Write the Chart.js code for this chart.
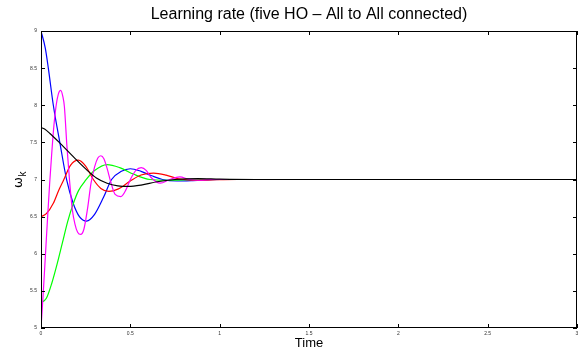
<!DOCTYPE html>
<html>
<head>
<meta charset="utf-8">
<script src="https://cdn.jsdelivr.net/npm/chart.js@4"></script>
<style>
  html, body { margin: 0; padding: 0; background: #fff; }
  #wrap { width: 578px; height: 347px; }
</style>
</head>
<body>
<div id="wrap"><canvas id="lrChart" width="578" height="347"></canvas></div>
<script>
// time (s) and omega_k values
const blueT = [0, 0.024, 0.041, 0.069, 0.106, 0.144, 0.18, 0.215, 0.255, 0.3, 0.35, 0.395, 0.45, 0.5, 0.56, 0.62, 0.68, 0.76, 0.85, 1.0, 3];
const blueW = [9, 8.77, 8.5, 8.0, 7.49, 6.99, 6.68, 6.5, 6.44, 6.53, 6.76, 7.0, 7.11, 7.145, 7.11, 7.05, 7.0, 6.98, 6.985, 7.0, 7];

const magentaT = [0, 0.012, 0.024, 0.036, 0.048, 0.06, 0.072, 0.085, 0.097, 0.11, 0.122, 0.131, 0.145, 0.16, 0.175, 0.19, 0.205, 0.222, 0.24, 0.26, 0.28, 0.3, 0.318, 0.335, 0.352, 0.37, 0.39, 0.415, 0.447, 0.475, 0.5, 0.53, 0.561, 0.59, 0.615, 0.667, 0.72, 0.776, 0.83, 0.89, 0.95, 1.1, 3];
const magentaW = [5.0, 5.45, 5.95, 6.45, 6.93, 7.35, 7.72, 8.0, 8.15, 8.2, 8.12, 7.98, 7.45, 6.98, 6.6, 6.4, 6.29, 6.26, 6.33, 6.6, 6.95, 7.17, 7.29, 7.32, 7.28, 7.15, 6.97, 6.8, 6.77, 6.86, 7.0, 7.12, 7.16, 7.12, 7.03, 6.95, 7.0, 7.035, 7.0, 6.99, 7.0, 7.0, 7];

const redT = [0, 0.03, 0.069, 0.1, 0.128, 0.165, 0.209, 0.25, 0.293, 0.335, 0.38, 0.43, 0.5, 0.56, 0.63, 0.7, 0.77, 0.85, 0.95, 1.1, 3];
const redW = [6.5, 6.54, 6.68, 6.86, 7.0, 7.19, 7.26, 7.18, 7.0, 6.88, 6.84, 6.87, 6.98, 7.06, 7.087, 7.06, 7.01, 6.99, 6.995, 7.0, 7];

const greenT = [0, 0.03, 0.06, 0.09, 0.12, 0.15, 0.18, 0.21, 0.25, 0.3, 0.37, 0.44, 0.52, 0.61, 0.7, 0.8, 0.95, 3];
const greenW = [5.34, 5.4, 5.6, 5.86, 6.15, 6.44, 6.67, 6.85, 6.99, 7.12, 7.2, 7.16, 7.07, 7.0, 6.99, 6.995, 7.0, 7];

const blackT = [0, 0.02, 0.05, 0.106, 0.2, 0.256, 0.31, 0.37, 0.43, 0.489, 0.56, 0.65, 0.75, 0.88, 1.0, 1.2, 3];
const blackW = [7.7, 7.68, 7.62, 7.49, 7.26, 7.13, 7.02, 6.95, 6.915, 6.907, 6.925, 6.97, 7.0, 7.012, 7.005, 7.0, 7];

const xTicks = [0, 0.5, 1, 1.5, 2, 2.5, 3];
const yTicks = [5, 5.5, 6, 6.5, 7, 7.5, 8, 8.5, 9];

function toPoints(ts, ws) {
  return ts.map((t, i) => ({ x: t, y: ws[i] }));
}

function line(label, color, ts, ws) {
  return {
    label: label,
    data: toPoints(ts, ws),
    borderColor: color,
    borderWidth: 1.2,
    pointRadius: 0,
    fill: false,
    cubicInterpolationMode: 'monotone'
  };
}

// box, inward ticks, title and axis labels in the MATLAB look
const matlabFrame = {
  id: 'matlabFrame',
  afterDraw(chart) {
    const ctx = chart.ctx;
    const a = chart.chartArea;
    const xs = chart.scales.x, ys = chart.scales.y;
    ctx.save();
    ctx.strokeStyle = '#000';
    ctx.lineWidth = 1;
    ctx.strokeRect(a.left + 0.5, a.top + 0.5, a.right - a.left - 1, a.bottom - a.top - 1);
    ctx.beginPath();
    xTicks.forEach(v => {
      const px = Math.round(xs.getPixelForValue(v)) + 0.5;
      ctx.moveTo(px, a.bottom); ctx.lineTo(px, a.bottom - 4);
      ctx.moveTo(px, a.top); ctx.lineTo(px, a.top + 4);
    });
    yTicks.forEach(v => {
      const py = Math.round(ys.getPixelForValue(v)) + 0.5;
      ctx.moveTo(a.left, py); ctx.lineTo(a.left + 4, py);
      ctx.moveTo(a.right, py); ctx.lineTo(a.right - 4, py);
    });
    ctx.stroke();

    ctx.fillStyle = '#000';
    ctx.textAlign = 'center';
    ctx.textBaseline = 'alphabetic';
    ctx.font = '16px "Liberation Sans", Arial, sans-serif';
    ctx.fillText('Learning rate (five HO \u2013 All to All connected)', (a.left + a.right) / 2, 19);
    ctx.font = '13px "Liberation Sans", Arial, sans-serif';
    ctx.fillText('Time', (a.left + a.right) / 2, 347);

    // omega_k, rotated
    ctx.translate(22, 188);
    ctx.rotate(-Math.PI / 2);
    ctx.textAlign = 'left';
    ctx.font = '13px "DejaVu Sans", sans-serif';
    ctx.fillText('\u03c9', 0, 0);
    const w = ctx.measureText('\u03c9').width;
    ctx.font = '10px "Liberation Sans", Arial, sans-serif';
    ctx.fillText('k', w + 0.5, 4);
    ctx.restore();
  }
};

const tickFont = { size: 5, family: '"Liberation Sans", Arial, sans-serif' };

const ctx = document.getElementById('lrChart').getContext('2d');
new Chart(ctx, {
  type: 'line',
  data: {
    datasets: [
      line('black', '#000000', blackT, blackW),
      line('magenta', '#ff00ff', magentaT, magentaW),
      line('red', '#ff0000', redT, redW),
      line('green', '#00ff00', greenT, greenW),
      line('blue', '#0000ff', blueT, blueW)
    ]
  },
  options: {
    responsive: false,
    animation: false,
    devicePixelRatio: 1,
    layout: { padding: { top: 31, right: 1, left: 0, bottom: 0 } },
    plugins: {
      legend: { display: false },
      tooltip: { enabled: false }
    },
    scales: {
      x: {
        type: 'linear',
        min: 0,
        max: 3,
        afterBuildTicks: s => { s.ticks = xTicks.map(v => ({ value: v })); },
        afterFit: s => { s.height = 19; s.paddingLeft = 0; s.paddingRight = 0; },
        grid: { display: false, drawTicks: false },
        border: { display: false },
        ticks: {
          maxRotation: 0,
          autoSkip: false,
          padding: 3,
          color: '#333',
          font: tickFont,
          callback: v => String(v)
        }
      },
      y: {
        min: 5,
        max: 9,
        afterBuildTicks: s => { s.ticks = yTicks.map(v => ({ value: v })); },
        afterFit: s => { s.width = 41; s.paddingTop = 0; s.paddingBottom = 0; },
        grid: { display: false, drawTicks: false },
        border: { display: false },
        ticks: {
          autoSkip: false,
          padding: 4,
          color: '#333',
          font: tickFont,
          callback: v => String(v)
        }
      }
    }
  },
  plugins: [matlabFrame]
});
</script>
</body>
</html>
